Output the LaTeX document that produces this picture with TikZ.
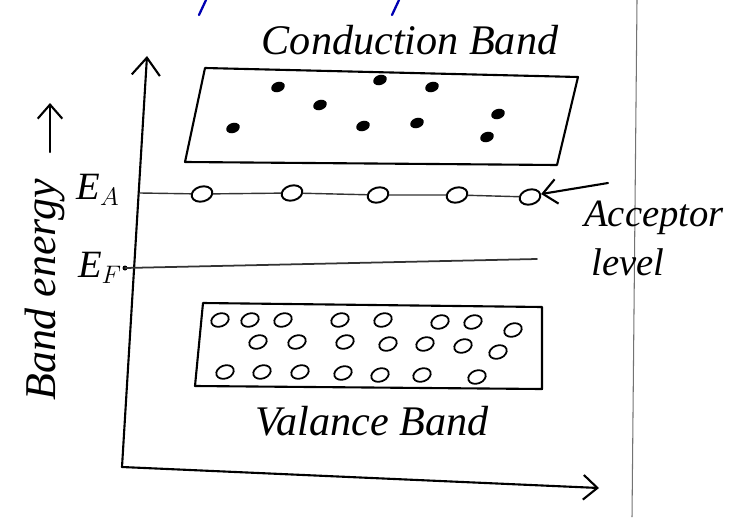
\documentclass[tikz,border=0pt]{standalone}
\usepackage{fontspec}
\setmainfont{Liberation Serif}
\usetikzlibrary{arrows.meta,shapes.geometric}
\begin{document}
\begin{tikzpicture}[x=0.02cm,y=-0.02cm,
  ink/.style={line width=1.2pt,line cap=round,line join=round,black},
  thin ink/.style={line width=0.8pt,line cap=round,black!80},
  lbl/.style={font=\itshape\fontsize{22}{24}\selectfont,inner sep=0pt},
  hole/.style={draw=black,line width=1pt},
  acc/.style={ellipse,draw=black,line width=1.1pt,fill=white,minimum width=12pt,minimum height=8.5pt,inner sep=0pt,rotate=15}]
\useasboundingbox (0,0) rectangle (756,517);
% page rule
\coordinate (pt) at (637,0);
\coordinate (pb) at (632,517);
\draw[black!55,line width=0.6pt] (pt) -- (pb);
% blue ink fragments
\draw[blue!70!black,line width=1.3pt,line cap=round] (206,0) -- (199,15);
\draw[blue!70!black,line width=1.3pt,line cap=round] (399,0) -- (392,15);
% axes
\coordinate (origin) at (122,467);
\coordinate (ytip) at (147,56);
\coordinate (xtip) at (599,488);
\draw[ink,-{Straight Barb[length=10pt,width=16pt]}] (origin) -- (ytip);
\draw[ink,-{Straight Barb[length=8pt,width=14pt]}] (origin) -- (xtip);
% axis label
\node[lbl,rotate=90,font=\itshape\fontsize{25}{27}\selectfont] (be) at (45,290) {Band energy};
\coordinate (ea1) at (50,152);
\coordinate (ea2) at (50,103);
\draw[ink,-{Straight Barb[length=8pt,width=14pt]}] (ea1) -- (ea2);
% conduction band
\node[lbl,font=\itshape\fontsize{24}{26}\selectfont] (cbl) at (410,40) {Conduction Band};
\coordinate (c1) at (205,68);
\coordinate (c2) at (578,77);
\coordinate (c3) at (557,165);
\coordinate (c4) at (185,162);
\draw[ink] (c1) -- (c2) -- (c3) -- (c4) -- cycle;
\foreach \x/\y in {278/87,380/80,432/87,320/105,233/128,363/126,417/123,498/114,487/137}
  \fill[rotate around={20:(\x,\y)}] (\x,\y) ellipse [x radius=7, y radius=5];
% acceptor level
\node[lbl] (EA) at (98,190) {E$_A$};
\coordinate (eas) at (140,193);
\node[acc] (a1) at (202,194) {};
\node[acc] (a2) at (292,193) {};
\node[acc] (a3) at (378,195) {};
\node[acc] (a4) at (457,195) {};
\node[acc] (a5) at (530,197) {};
\draw[thin ink] (eas) -- (a1) -- (a2) -- (a3) -- (a4) -- (a5);
\node[lbl] (accl) at (654,218) {Acceptor};
\node[lbl] (lev) at (628,262) {level};
\draw[ink,-{Straight Barb[length=8pt,width=14pt]}] (608,183) -- (a5.east);
% Fermi level
\node[lbl] (EF) at (100,268) {E$_F$};
\coordinate (efs) at (125,268);
\coordinate (efe) at (537,259);
\fill (efs) circle (2.5);
\draw[thin ink,line width=1pt] (efs) -- (efe);
% valence band
\coordinate (v1) at (203,303);
\coordinate (v2) at (542,307);
\coordinate (v3) at (542,389);
\coordinate (v4) at (195,386);
\draw[ink] (v1) -- (v2) -- (v3) -- (v4) -- cycle;
\foreach \x/\y in {220/320,250/320,283/320,340/320,383/320,440/322,473/322,513/330,
                   258/342,297/342,345/342,388/344,425/344,463/346,498/352,
                   225/372,262/372,300/372,343/373,380/375,422/375,477/377}
  \draw[hole,rotate around={20:(\x,\y)}] (\x,\y) ellipse [x radius=9, y radius=6.5];
\node[lbl,font=\itshape\fontsize{24}{26}\selectfont] (vbl) at (372,421) {Valance Band};
\end{tikzpicture}
\end{document}
